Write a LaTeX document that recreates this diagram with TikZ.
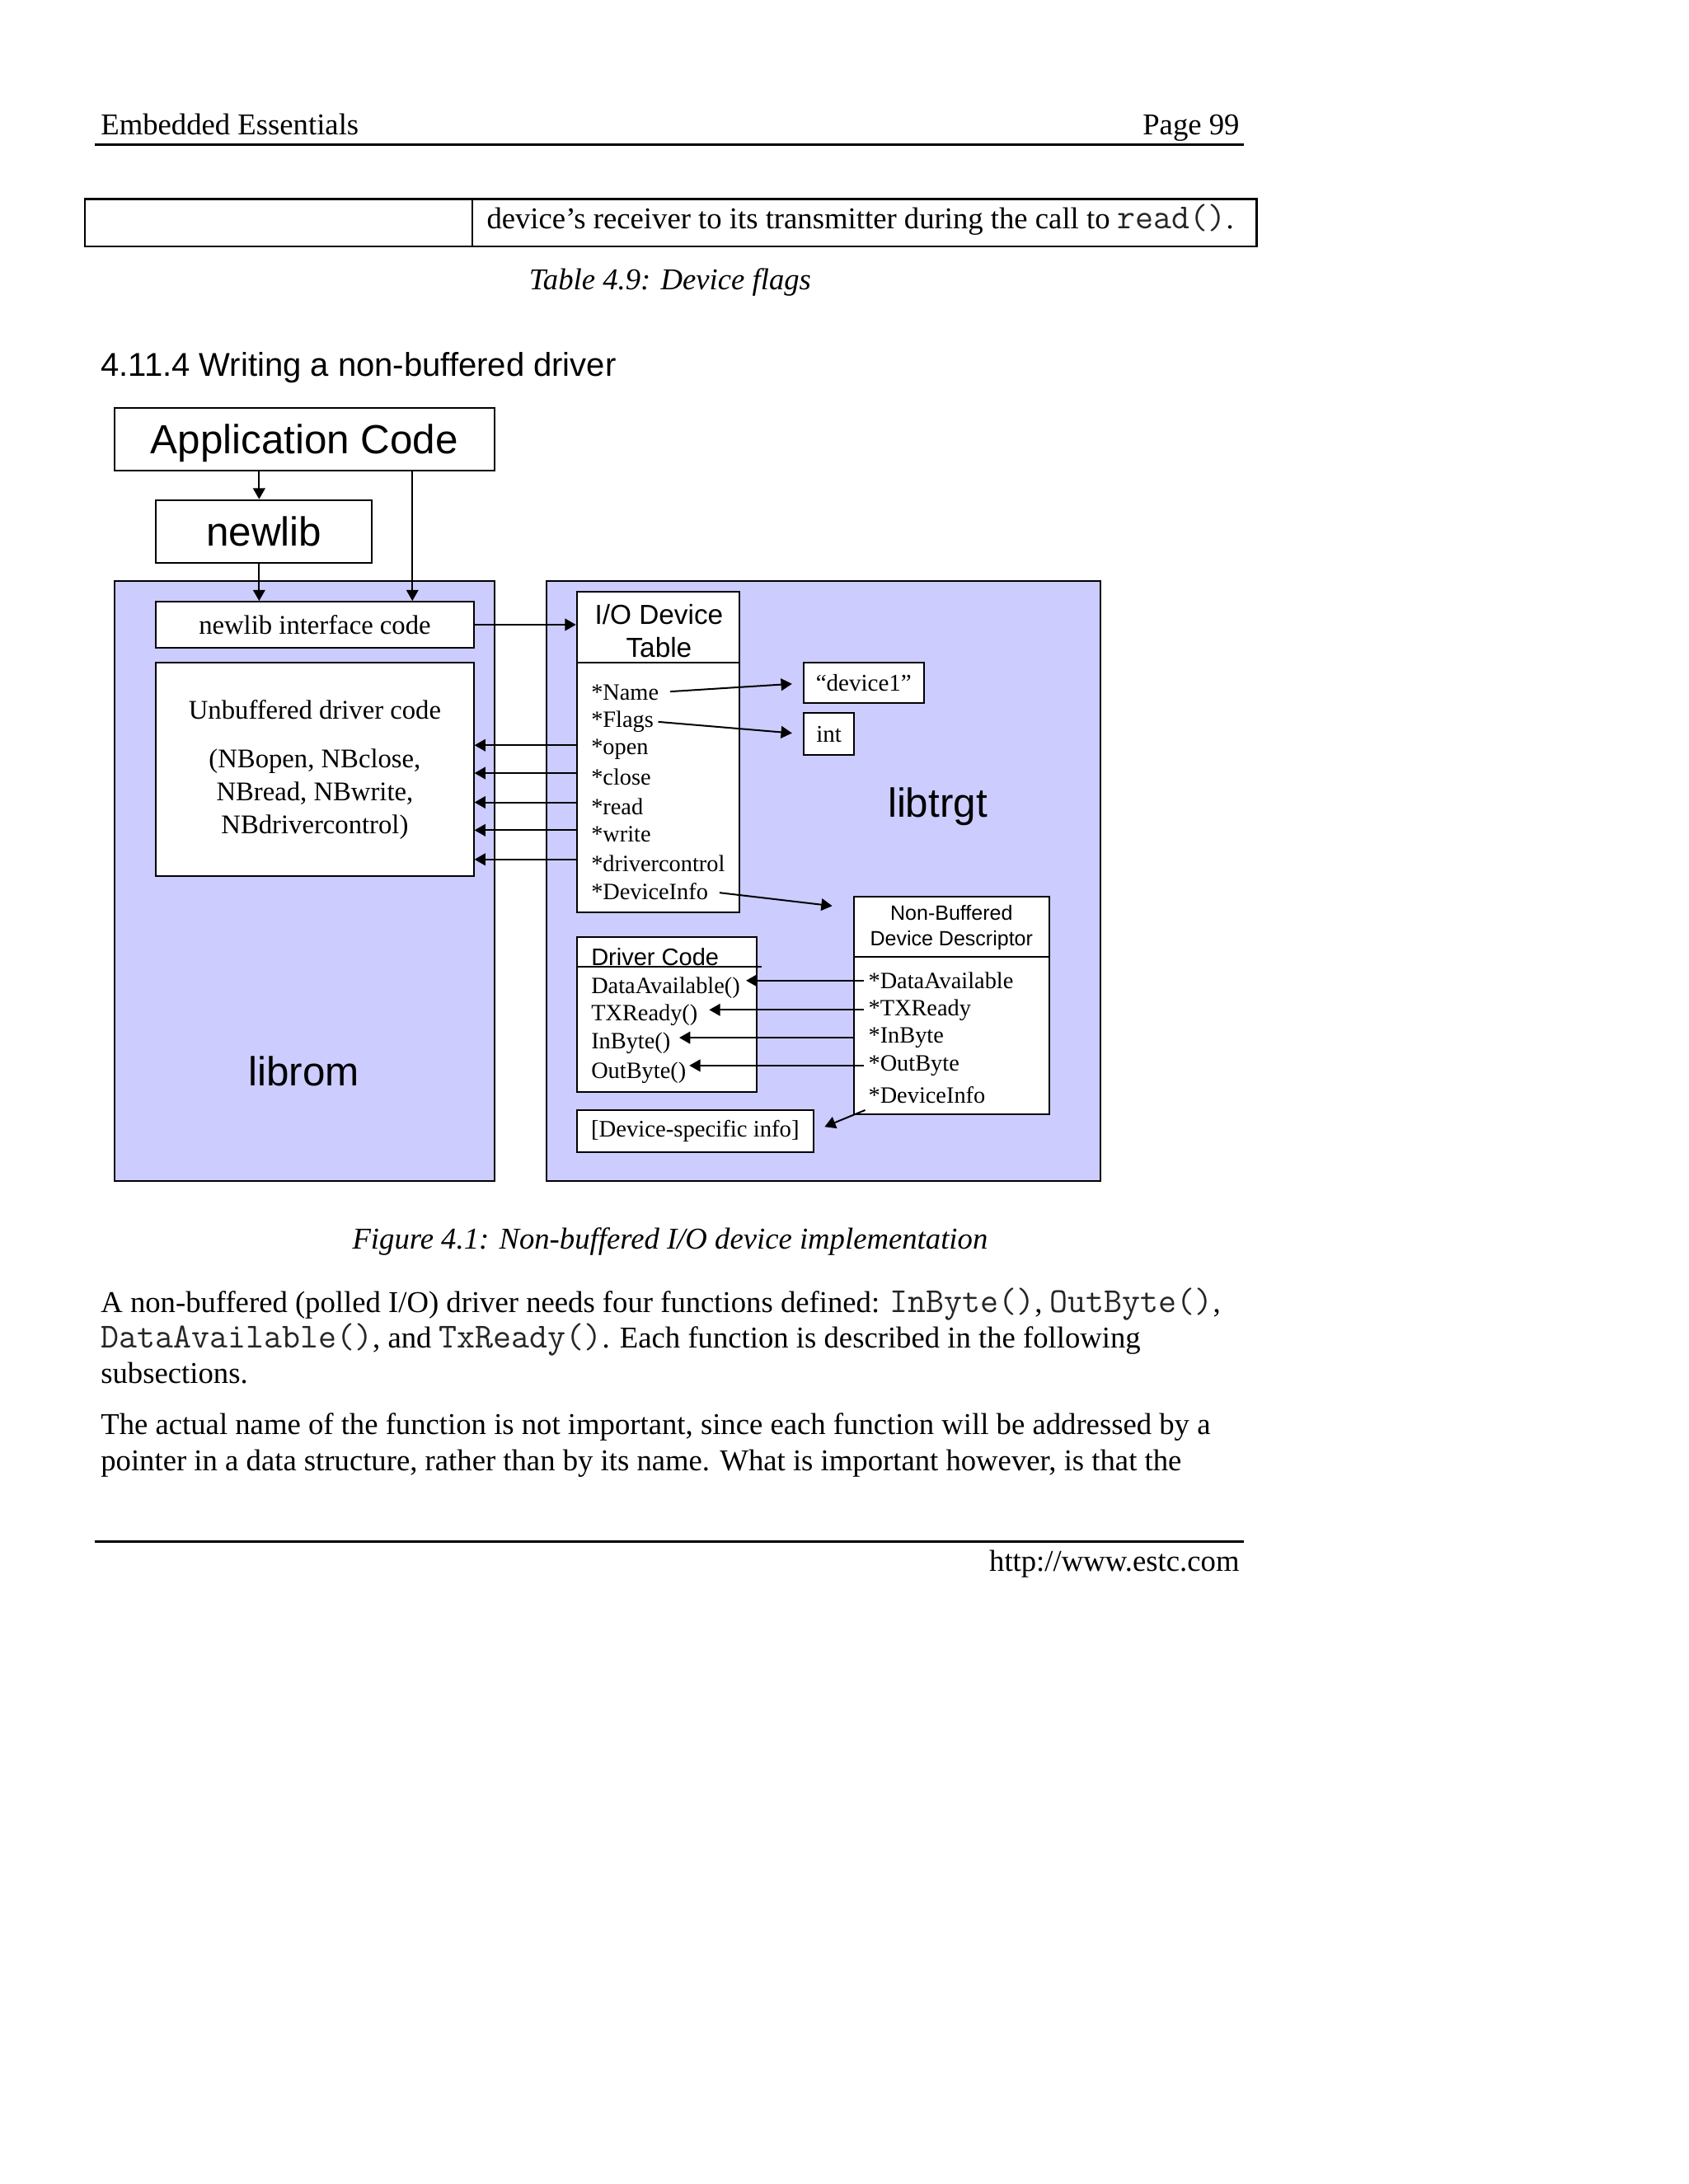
\documentclass[tikz,border=0pt]{standalone}
\usepackage{fontspec}
\setmainfont{Liberation Serif}
\setsansfont{Liberation Sans}
\usetikzlibrary{arrows.meta,fit}

\definecolor{libfill}{RGB}{204,204,255}
\newcommand{\code}[1]{{\ttfamily\fontsize{12.8}{13}\selectfont\color{black!85}#1}}

\tikzset{
  box/.style={draw, fill=white, inner sep=0pt, line width=0.6pt},
  libbox/.style={draw, fill=libfill, inner sep=0pt, line width=0.6pt},
  ptr/.style={-{Triangle[length=4pt,width=4.4pt]}, line width=0.6pt},
  fld/.style={anchor=west, inner sep=0pt, font=\fontsize{8.5}{10}\selectfont},
  big/.style={inner sep=0pt, font=\sffamily\fontsize{14.8}{17}\selectfont},
  body/.style={anchor=base west, inner sep=0pt, font=\fontsize{11}{13}\selectfont},
  rule/.style={line width=0.9pt},
}

\begin{document}
\begin{tikzpicture}[x=0.017814cm, y=-0.017814cm]
\useasboundingbox (0,0) rectangle (1212,1568);

% page header
\node[body] (hdl) at (72,97) {Embedded Essentials};
\node[body, anchor=base east] (hdr) at (890,97) {Page 99};
\draw[rule] (68,104) -- (893,104);

% end of table 4.9
\draw[line width=0.8pt] (61,143) rectangle (902,177);
\draw[line width=0.6pt] (339,143) -- (339,177);
\node[body] (trow) at (349,164) {device’s receiver to its transmitter during the call to \code{read()}.};
\node[body, anchor=base, font=\itshape\fontsize{11}{13}\selectfont] (tcap) at (481,208) {Table 4.9: Device flags};

\node[body, font=\sffamily\fontsize{12}{14}\selectfont] (sect) at (72,270) {4.11.4 Writing a non-buffered driver};

% libraries
\node[libbox, fit={(82,417)(355,848)}] (librom) {};
\node[libbox, fit={(392,417)(790,848)}] (libtrgt) {};
\node[big] (lromlbl) at (218,769) {librom};
\node[big] (ltrgtlbl) at (673,579) {libtrgt};

% application side
\node[box, fit={(82,293)(355,338)}] (app) {};
\node[big, anchor=base] (apptxt) at ([yshift=-5.3pt]app.center) {Application Code};
\node[box, fit={(112,359)(267,404)}] (newlib) {};
\node[big, anchor=base] (newlibtxt) at ([yshift=-5.3pt]newlib.center) {newlib};
\node[box, fit={(112,432)(340,465)}] (nif) {};
\node[font=\fontsize{9.8}{11.8}\selectfont] (niftxt) at (nif.center) {newlib interface code};
\node[box, fit={(112,476)(340,629)}] (unbuf) {};
\node[align=center, font=\fontsize{9.8}{11.9}\selectfont] (unbuftxt) at (unbuf.center)
  {Unbuffered driver code\\[5.8pt](NBopen, NBclose,\\NBread, NBwrite,\\NBdrivercontrol)};

\coordinate (colA) at (186,0);
\coordinate (colB) at (296,0);
\draw[ptr] (app.south -| colA) -- (newlib.north -| colA);
\draw[ptr] (newlib.south -| colA) -- (nif.north -| colA);
\draw[ptr] (app.south -| colB) -- (nif.north -| colB);

% I/O device table
\node[box, fit={(414,425)(531,655)}] (iotab) {};
\draw[line width=0.6pt] (414,476) -- (531,476);
\node[align=center, font=\sffamily\fontsize{10}{12.1}\selectfont] (iottl) at (473,453) {I/O Device\\Table};
\node[fld] (fName)  at (424,497) {*Name};
\node[fld] (fFlags) at (424,518) {*Flags};
\node[fld] (fOpen)  at (424,538) {*open};
\node[fld] (fClose) at (424,558) {*close};
\node[fld] (fRead)  at (424,579) {*read};
\node[fld] (fWrite) at (424,599) {*write};
\node[fld] (fCtl)   at (424,620) {*drivercontrol};
\node[fld] (fInfo)  at (424,640) {*DeviceInfo};

\draw[ptr] (nif.east) -- (nif.east -| iotab.west);
\foreach \f in {fOpen,fClose,fRead,fWrite,fCtl}
  \draw[ptr] ([yshift=1.5pt]iotab.west |- \f) -- ([yshift=1.5pt]unbuf.east |- \f);

\node[box, fit={(577,476)(663,505)}] (dev1) {};
\node[font=\fontsize{8.7}{10}\selectfont] (dev1txt) at (dev1.center) {“device1”};
\node[box, fit={(577,512)(613,542)}] (int) {};
\node[font=\fontsize{8.7}{10}\selectfont] (inttxt) at (int.center) {int};
\draw[ptr, shorten <=4pt, shorten >=4pt] (fName.east) -- (dev1.west);
\draw[ptr, shorten <=1.5pt, shorten >=4pt] (fFlags.east) -- (int.west);

% device descriptor
\node[box, fit={(613,644)(753,800)}] (desc) {};
\draw[line width=0.6pt] (613,687) -- (753,687);
\node[align=center, font=\sffamily\fontsize{7.5}{9.1}\selectfont] (desctl) at (683,666) {Non-Buffered\\Device Descriptor};
\node[fld] (dAvail) at (623,704) {*DataAvailable};
\node[fld] (dTx)    at (623,725) {*TXReady};
\node[fld] (dIn)    at (623,745) {*InByte};
\node[fld] (dOut)   at (623,765) {*OutByte};
\node[fld] (dInfo)  at (623,786) {*DeviceInfo};
\draw[ptr, shorten <=4pt] (fInfo.east) -- ([shift={(-15,7)}]desc.north west);

% driver code
\node[box, fit={(414,673)(543,784)}] (drv) {};
\draw[line width=0.6pt] (414,694) -- (547,694);
\node[anchor=west, inner sep=0pt, font=\sffamily\fontsize{8.7}{10}\selectfont] (drvtl) at (424,687) {Driver Code};
\node[fld] (cAvail) at (424,709) {DataAvailable()};
\node[fld] (cTx)    at (424,729) {TXReady()};
\node[fld] (cIn)    at (424,749) {InByte()};
\node[fld] (cOut)   at (424,770) {OutByte()};
\draw[ptr, shorten >=2pt] ([xshift=-1.5pt]dAvail.west) -- (dAvail.west -| cAvail.east);
\draw[ptr, shorten >=4pt] ([xshift=-1.5pt]dTx.west) -- (dTx.west -| cTx.east);
\draw[ptr, shorten >=3pt] (desc.west |- dIn) -- (dIn.west -| cIn.east);
\draw[ptr, shorten >=1pt] ([xshift=-1.5pt]dOut.west) -- (dOut.west -| cOut.east);

\node[box, fit={(414,797)(584,827)}] (dsi) {};
\node[font=\fontsize{8.6}{10}\selectfont] (dsitxt) at (dsi.center) {[Device-specific info]};
\draw[ptr, shorten >=4pt] ([shift={(-2,11)}]dInfo.west) -- (dsi.east);

% caption and text
\node[body, anchor=base, font=\itshape\fontsize{11}{13}\selectfont] (fcap) at (481,897) {Figure 4.1: Non-buffered I/O device implementation};
\node[body] (p1) at (72,942) {A non-buffered (polled I/O) driver needs four functions defined: \code{InByte()}, \code{OutByte()},};
\node[body] (p2) at (72,968) {\code{DataAvailable()}, and \code{TxReady()}. Each function is described in the following};
\node[body] (p3) at (72,993) {subsections.};
\node[body] (p4) at (72,1030) {The actual name of the function is not important, since each function will be addressed by a};
\node[body] (p5) at (72,1056) {pointer in a data structure, rather than by its name. What is important however, is that the};

% page footer
\draw[rule] (68,1107) -- (893,1107);
\node[body, anchor=base east] (ftr) at (890,1128) {http://www.estc.com};
\end{tikzpicture}
\end{document}
